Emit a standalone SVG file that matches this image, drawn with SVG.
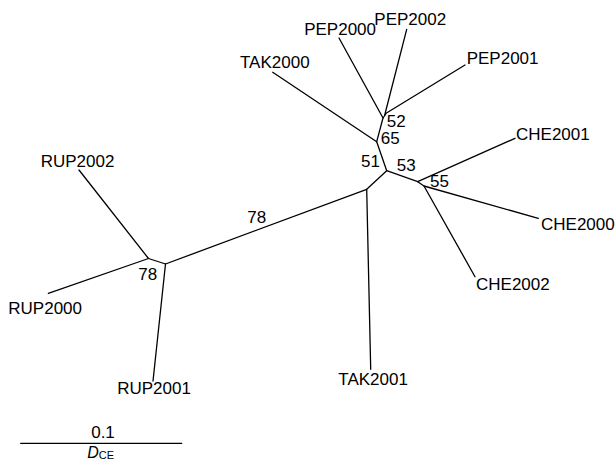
<svg xmlns="http://www.w3.org/2000/svg" width="616" height="468" viewBox="0 0 616 468">
<style>
.e{stroke:#000;stroke-width:1.3;fill:none;stroke-linecap:round;stroke-linejoin:round}
text{font-family:"Liberation Sans",Arial,sans-serif;font-size:17px;fill:#000}
</style>
<rect width="616" height="468" fill="#fff"/>
<g id="connectors">
<path class="e" d="M339,38 L383,118 L386.5,113 L465,65"/>
<path class="e" d="M406.7,29.3 L384.6,115.5"/>
<path class="e" d="M383,118 L376.7,141.7 L386.7,170.7 L417.7,181.7 L515,138.3"/>
<path class="e" d="M272.7,72.3 L376.7,141.7"/>
<path class="e" d="M417.7,181.7 L424,186 L538.3,218.3"/>
<path class="e" d="M424,186 L475,276.7"/>
<path class="e" d="M386.7,170.7 L366.7,189.3 L370.7,369.3"/>
<path class="e" d="M366.7,189.3 L165.5,264 L148.5,258.5 L79,170"/>
<path class="e" d="M148.5,258.5 L48.3,293.3"/>
<path class="e" d="M165.5,264 L153,381"/>
</g>
<g id="support-labels">
<text x="386.7" y="127.3">52</text>
<text x="380.7" y="144">65</text>
<text x="361" y="166.6">51</text>
<text x="396.7" y="170.7">53</text>
<text x="430" y="187.3">55</text>
<text x="247.3" y="222.7">78</text>
<text x="138.3" y="280.4">78</text>
</g>
<g id="PEP2000"><text x="376" y="35" text-anchor="end">PEP2000</text></g>
<g id="PEP2002"><text x="374.3" y="25">PEP2002</text></g>
<g id="PEP2001"><text x="466.7" y="63.5">PEP2001</text></g>
<g id="TAK2000"><text x="240" y="68.3">TAK2000</text></g>
<g id="CHE2001"><text x="516" y="140">CHE2001</text></g>
<g id="CHE2000"><text x="541" y="230">CHE2000</text></g>
<g id="CHE2002"><text x="476" y="290">CHE2002</text></g>
<g id="TAK2001"><text x="338.3" y="385">TAK2001</text></g>
<g id="RUP2002"><text x="40.7" y="166.7">RUP2002</text></g>
<g id="RUP2000"><text x="8.3" y="313.5">RUP2000</text></g>
<g id="RUP2001"><text x="154" y="394" text-anchor="middle">RUP2001</text></g>
<g id="scale">
<line class="e" x1="20.7" y1="443.3" x2="181.7" y2="443.3"/>
<text x="103" y="438.3" text-anchor="middle">0.1</text>
<text x="87.3" y="458.3" style="font-style:italic;font-size:16px">D<tspan style="font-style:normal;font-size:11px" dy="1">CE</tspan></text>
</g>
</svg>
